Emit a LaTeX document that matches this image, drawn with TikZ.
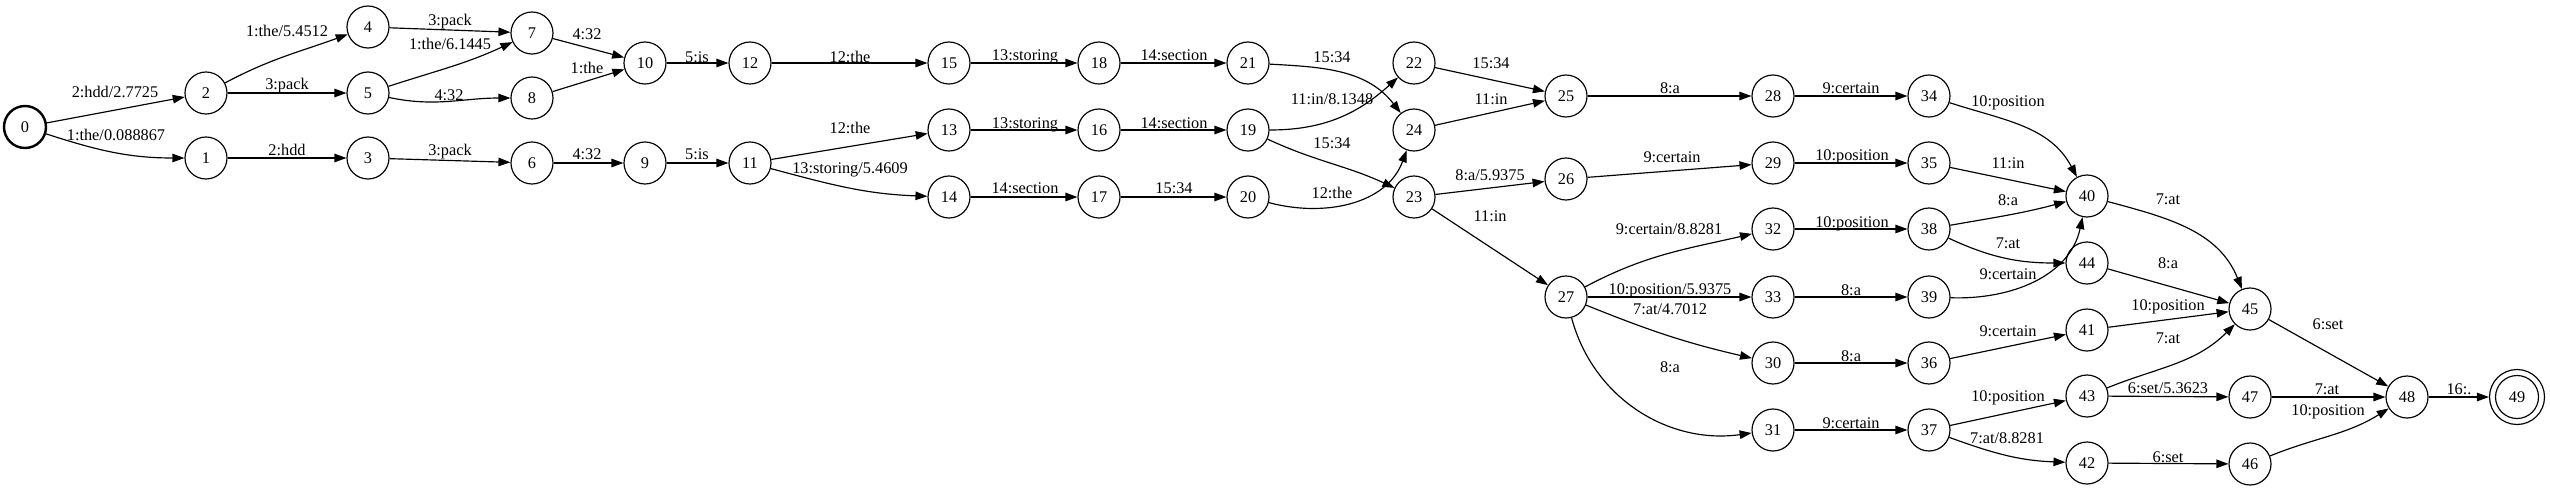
\documentclass[tikz,border=0pt]{standalone}
\usepackage{fontspec}
\setmainfont{Liberation Serif}
\usetikzlibrary{arrows.meta}
\tikzset{
  st/.style={circle,draw,line width=1.17pt,minimum size=42pt,inner sep=0pt,font=\fontsize{16.3pt}{19pt}\selectfont},
  lbl/.style={inner sep=0pt,text height=10.8pt,text depth=0pt,font=\fontsize{16.3pt}{19pt}\selectfont},
  ed/.style={line width=1.17pt,-{Triangle[length=12pt,width=8.5pt]}}
}
\begin{document}
\begin{tikzpicture}[x=1pt,y=-1pt]
\useasboundingbox (0,0) rectangle (2550,491);
% states
\node[st,line width=2.4pt] (n0) at (25,127) {0};
\node[st] (n1) at (206,158) {1};
\node[st] (n2) at (206,93) {2};
\node[st] (n3) at (368,158) {3};
\node[st] (n4) at (368,27) {4};
\node[st] (n5) at (368,93) {5};
\node[st] (n6) at (532,163) {6};
\node[st] (n7) at (532,33) {7};
\node[st] (n8) at (532,98) {8};
\node[st] (n9) at (645,163) {9};
\node[st] (n10) at (645,63) {10};
\node[st] (n11) at (750,163) {11};
\node[st] (n12) at (750,63) {12};
\node[st] (n13) at (949,130) {13};
\node[st] (n14) at (949,197) {14};
\node[st] (n15) at (949,63) {15};
\node[st] (n16) at (1099,130) {16};
\node[st] (n17) at (1099,197) {17};
\node[st] (n18) at (1099,63) {18};
\node[st] (n19) at (1248,130) {19};
\node[st] (n20) at (1248,197) {20};
\node[st] (n21) at (1248,63) {21};
\node[st] (n22) at (1414,63) {22};
\node[st] (n23) at (1414,197) {23};
\node[st] (n24) at (1414,130) {24};
\node[st] (n25) at (1566,96) {25};
\node[st] (n26) at (1566,179) {26};
\node[st] (n27) at (1566,297) {27};
\node[st] (n28) at (1773,96) {28};
\node[st] (n29) at (1773,163) {29};
\node[st] (n30) at (1773,363) {30};
\node[st] (n31) at (1773,430) {31};
\node[st] (n32) at (1773,229) {32};
\node[st] (n33) at (1773,297) {33};
\node[st] (n34) at (1929,96) {34};
\node[st] (n35) at (1929,163) {35};
\node[st] (n36) at (1929,363) {36};
\node[st] (n37) at (1929,430) {37};
\node[st] (n38) at (1929,229) {38};
\node[st] (n39) at (1929,297) {39};
\node[st] (n40) at (2087,196) {40};
\node[st] (n41) at (2087,330) {41};
\node[st] (n42) at (2087,463) {42};
\node[st] (n43) at (2087,396) {43};
\node[st] (n44) at (2087,263) {44};
\node[st] (n45) at (2250,309) {45};
\node[st] (n46) at (2250,464) {46};
\node[st] (n47) at (2250,397) {47};
\node[st] (n48) at (2407,397) {48};
\node[st,minimum size=55pt] (n49) at (2517,397) {49};
\draw[line width=1.17pt] (n49.center) circle (21.5pt);
% edges
\draw[ed] (n0) -- (n2);
\draw[ed] (n0) to[out=-18,in=180] (n1);
\draw[ed] (n2) to[out=28,in=200] (n4);
\draw[ed] (n2) -- (n5);
\draw[ed] (n1) -- (n3);
\draw[ed] (n4) -- (n7);
\draw[ed] (n5) to[out=18,in=205] (n7);
\draw[ed] (n5) to[out=-12,in=180] (n8);
\draw[ed] (n3) -- (n6);
\draw[ed] (n7) -- (n10);
\draw[ed] (n8) -- (n10);
\draw[ed] (n10) -- (n12);
\draw[ed] (n6) -- (n9);
\draw[ed] (n9) -- (n11);
\draw[ed] (n12) -- (n15);
\draw[ed] (n11) -- (n13);
\draw[ed] (n11) to[out=-15,in=178] (n14);
\draw[ed] (n15) -- (n18);
\draw[ed] (n18) -- (n21);
\draw[ed] (n13) -- (n16);
\draw[ed] (n16) -- (n19);
\draw[ed] (n14) -- (n17);
\draw[ed] (n17) -- (n20);
\draw[ed] (n21) to[out=-3,in=128] (n24);
\draw[ed] (n19) to[out=0,in=222] (n22);
\draw[ed] (n19) to[out=-25,in=155] (n23);
\draw[ed] (n20) to[out=-15,in=250] (n24);
\draw[ed] (n22) -- (n25);
\draw[ed] (n24) -- (n25);
\draw[ed] (n23) -- (n26);
\draw[ed] (n23) -- (n27);
\draw[ed] (n25) -- (n28);
\draw[ed] (n26) -- (n29);
\draw[ed] (n27) to[out=28,in=193] (n32);
\draw[ed] (n27) -- (n33);
\draw[ed] (n27) to[out=-22,in=167] (n30);
\draw[ed] (n27) to[out=-75,in=188] (n31);
\draw[ed] (n28) -- (n34);
\draw[ed] (n29) -- (n35);
\draw[ed] (n32) -- (n38);
\draw[ed] (n34) to[out=-18,in=118] (n40);
\draw[ed] (n35) -- (n40);
\draw[ed] (n38) to[out=10,in=195] (n40);
\draw[ed] (n38) to[out=-25,in=180] (n44);
\draw[ed] (n39) to[out=-2,in=258] (n40);
\draw[ed] (n33) -- (n39);
\draw[ed] (n30) -- (n36);
\draw[ed] (n36) -- (n41);
\draw[ed] (n31) -- (n37);
\draw[ed] (n37) -- (n43);
\draw[ed] (n37) to[out=-20,in=178] (n42);
\draw[ed] (n40) to[out=-15,in=112] (n45);
\draw[ed] (n44) -- (n45);
\draw[ed] (n41) -- (n45);
\draw[ed] (n43) to[out=22,in=225] (n45);
\draw[ed] (n43) -- (n47);
\draw[ed] (n42) -- (n46);
\draw[ed] (n45) -- (n48);
\draw[ed] (n47) -- (n48);
\draw[ed] (n46) to[out=22,in=212] (n48);
\draw[ed] (n48) -- (n49);
% labels
\node[lbl] (l1) at (115,92) {2:hdd/2.7725};
\node[lbl] (l2) at (116,135) {1:the/0.088867};
\node[lbl] (l3) at (287,31) {1:the/5.4512};
\node[lbl] (l4) at (287,84) {3:pack};
\node[lbl] (l5) at (287,150) {2:hdd};
\node[lbl] (l6) at (450,20) {3:pack};
\node[lbl] (l7) at (450,44) {1:the/6.1445};
\node[lbl] (l8) at (449,95) {4:32};
\node[lbl] (l9) at (450,150) {3:pack};
\node[lbl] (l10) at (587,34) {4:32};
\node[lbl] (l11) at (587,68) {1:the};
\node[lbl] (l12) at (697,57) {5:is};
\node[lbl] (l13) at (587,154) {4:32};
\node[lbl] (l14) at (697,154) {5:is};
\node[lbl] (l15) at (850,57) {12:the};
\node[lbl] (l16) at (850,128) {12:the};
\node[lbl] (l17) at (850,168) {13:storing/5.4609};
\node[lbl] (l18) at (1025,55) {13:storing};
\node[lbl] (l19) at (1174,55) {14:section};
\node[lbl] (l20) at (1025,123) {13:storing};
\node[lbl] (l21) at (1174,123) {14:section};
\node[lbl] (l22) at (1025,188) {14:section};
\node[lbl] (l23) at (1174,188) {15:34};
\node[lbl] (l24) at (1332,57) {15:34};
\node[lbl] (l25) at (1332,99) {11:in/8.1348};
\node[lbl] (l26) at (1332,143) {15:34};
\node[lbl] (l27) at (1332,193) {12:the};
\node[lbl] (l28) at (1491,63) {15:34};
\node[lbl] (l29) at (1491,99) {11:in};
\node[lbl] (l30) at (1490,175) {8:a/5.9375};
\node[lbl] (l31) at (1490,216) {11:in};
\node[lbl] (l32) at (1670,88) {8:a};
\node[lbl] (l33) at (1672,157) {9:certain};
\node[lbl] (l34) at (1669,229) {9:certain/8.8281};
\node[lbl] (l35) at (1670,289) {10:position/5.9375};
\node[lbl] (l36) at (1670,309) {7:at/4.7012};
\node[lbl] (l37) at (1670,367) {8:a};
\node[lbl] (l38) at (1851,88) {9:certain};
\node[lbl] (l39) at (1852,155) {10:position};
\node[lbl] (l40) at (1852,222) {10:position};
\node[lbl] (l41) at (2008,101) {10:position};
\node[lbl] (l42) at (2008,163) {11:in};
\node[lbl] (l43) at (2008,200) {8:a};
\node[lbl] (l44) at (2008,243) {7:at};
\node[lbl] (l45) at (2008,274) {9:certain};
\node[lbl] (l46) at (1851,290) {8:a};
\node[lbl] (l47) at (1851,356) {8:a};
\node[lbl] (l48) at (2008,331) {9:certain};
\node[lbl] (l49) at (1851,423) {9:certain};
\node[lbl] (l50) at (2008,396) {10:position};
\node[lbl] (l51) at (2007,438) {7:at/8.8281};
\node[lbl] (l52) at (2168,199) {7:at};
\node[lbl] (l53) at (2168,263) {8:a};
\node[lbl] (l54) at (2168,305) {10:position};
\node[lbl] (l55) at (2168,338) {7:at};
\node[lbl] (l56) at (2168,388) {6:set/5.3623};
\node[lbl] (l57) at (2168,457) {6:set};
\node[lbl] (l58) at (2328,324) {6:set};
\node[lbl] (l59) at (2327,389) {7:at};
\node[lbl] (l60) at (2328,410) {10:position};
\node[lbl] (l61) at (2459,389) {16:.};
\end{tikzpicture}
\end{document}
